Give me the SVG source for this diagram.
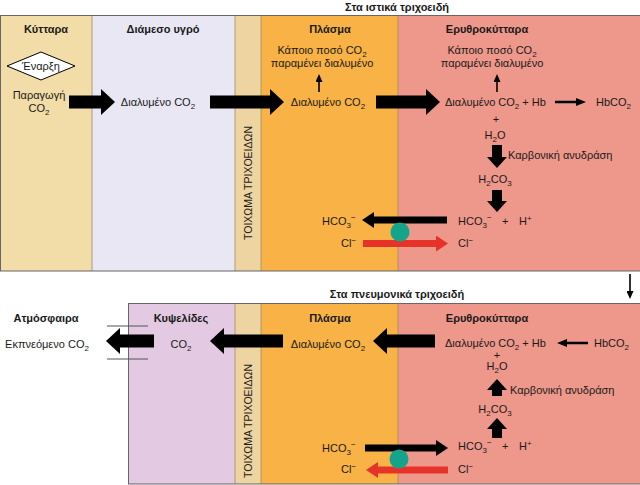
<svg xmlns="http://www.w3.org/2000/svg" width="640" height="485" viewBox="0 0 640 485">
<style>
text{font-family:"Liberation Sans",Arial,sans-serif;font-size:11px;fill:#1a1a1a}
.b{font-weight:bold}
.m{text-anchor:middle}
.wall{font-size:10.5px;text-anchor:middle}
.thick{stroke:#000;stroke-width:13;fill:none}
.vert{stroke:#000;stroke-width:10;fill:none}
.ex{stroke:#000;stroke-width:7;fill:none}
.red{stroke:#e5332a;stroke-width:7;fill:none}
.thin{stroke:#000;stroke-width:2.5;fill:none}
.hair{stroke:#000;stroke-width:1.6;fill:none}
.div{stroke:#9c8a68;stroke-width:0.8}
.frame{fill:none;stroke:#666;stroke-width:1}
</style>
<defs>
<marker id="hd" markerUnits="userSpaceOnUse" markerWidth="14" markerHeight="26" viewBox="0 0 14 26" refX="0" refY="13" orient="auto"><path d="M0,0 L14,13 L0,26 Z" fill="#000"/></marker>
<marker id="hv" markerUnits="userSpaceOnUse" markerWidth="11" markerHeight="20" viewBox="0 0 11 20" refX="0" refY="10" orient="auto"><path d="M0,0 L11,10 L0,20 Z" fill="#000"/></marker>
<marker id="hx" markerUnits="userSpaceOnUse" markerWidth="12" markerHeight="16" viewBox="0 0 12 16" refX="0" refY="8" orient="auto"><path d="M0,0 L12,8 L0,16 Z" fill="#000"/></marker>
<marker id="hr" markerUnits="userSpaceOnUse" markerWidth="12" markerHeight="16" viewBox="0 0 12 16" refX="0" refY="8" orient="auto"><path d="M0,0 L12,8 L0,16 Z" fill="#e5332a"/></marker>
<marker id="ht" markerUnits="userSpaceOnUse" markerWidth="10" markerHeight="8" viewBox="0 0 10 8" refX="0" refY="4" orient="auto"><path d="M0,0 L10,4 L0,8 Z" fill="#000"/></marker>
<marker id="hs" markerUnits="userSpaceOnUse" markerWidth="8" markerHeight="7" viewBox="0 0 8 7" refX="0" refY="3.5" orient="auto"><path d="M0,0 L8,3.5 L0,7 Z" fill="#000"/></marker>
</defs>

<!-- titles -->
<text class="b m" x="397" y="11">Στα ιστικά τριχοειδή</text>
<text class="b m" x="397" y="298">Στα πνευμονικά τριχοειδή</text>

<!-- top panel backgrounds -->
<g id="top-panel">
<rect x="0" y="15" width="92" height="256" fill="#f2dca7"/>
<rect x="92" y="15" width="143" height="256" fill="#e9e7f3"/>
<rect x="235" y="15" width="26" height="256" fill="#eed4a0"/>
<rect x="261" y="15" width="137" height="256" fill="#f8b245"/>
<rect x="398" y="15" width="242" height="256" fill="#ee978b"/>
<line class="div" x1="92" y1="15" x2="92" y2="271"/>
<line class="div" x1="235" y1="15" x2="235" y2="271"/>
<line class="div" x1="261" y1="15" x2="261" y2="271"/>
<line class="div" x1="398" y1="15" x2="398" y2="271"/>
<rect class="frame" x="0.5" y="15.5" width="640" height="255.5"/>
</g>

<!-- bottom panel backgrounds -->
<g id="bottom-panel">
<rect x="128" y="303" width="107" height="181" fill="#e3c9e1"/>
<rect x="235" y="303" width="26" height="181" fill="#eed4a0"/>
<rect x="261" y="303" width="137" height="181" fill="#f8b245"/>
<rect x="398" y="303" width="242" height="181" fill="#ee978b"/>
<line class="div" x1="235" y1="303" x2="235" y2="484"/>
<line class="div" x1="261" y1="303" x2="261" y2="484"/>
<line class="div" x1="398" y1="303" x2="398" y2="484"/>
<rect class="frame" x="128.5" y="303.5" width="512" height="180.5"/>
</g>

<!-- top nodes -->
<g id="cell">
<text class="b m" x="46" y="33">Κύτταρα</text>
<polygon points="7,66 41,52 75,66 41,80" fill="#fff" stroke="#000" stroke-width="1"/>
<text class="m" x="41" y="70">Έναρξη</text>
<text class="m" x="39" y="99">Παραγωγή</text>
<text class="m" x="39" y="112">CO<tspan dy="3" font-size="8">2</tspan></text>
</g>
<g id="interstitial">
<text class="b m" x="163" y="33">Διάμεσο υγρό</text>
<text class="m" x="158" y="106">Διαλυμένο CO<tspan dy="3" font-size="8">2</tspan></text>
</g>
<g id="wall-top">
<text class="wall" transform="translate(252,183) rotate(-90)">ΤΟΙΧΩΜΑ ΤΡΙΧΟΕΙΔΩΝ</text>
</g>
<g id="plasma-top">
<text class="b m" x="330" y="33">Πλάσμα</text>
<text class="m" x="322" y="54">Κάποιο ποσό CO<tspan dy="2.5" font-size="8">2</tspan></text>
<text class="m" x="322" y="67">παραμένει διαλυμένο</text>
<text class="m" x="328" y="106">Διαλυμένο CO<tspan dy="3" font-size="8">2</tspan></text>
<text x="322" y="225">HCO<tspan dy="3" font-size="8">3</tspan><tspan dy="-8" font-size="8">−</tspan></text>
<text x="341" y="247">Cl<tspan dy="-4" font-size="8">−</tspan></text>
</g>
<g id="rbc-top">
<text class="b m" x="487" y="33">Ερυθροκύτταρα</text>
<text class="m" x="492" y="54">Κάποιο ποσό CO<tspan dy="2.5" font-size="8">2</tspan></text>
<text class="m" x="492" y="67">παραμένει διαλυμένο</text>
<text x="445" y="106">Διαλυμένο CO<tspan dy="3" font-size="8">2</tspan><tspan dy="-3"> + Hb</tspan></text>
<text x="596" y="106">HbCO<tspan dy="3" font-size="8">2</tspan></text>
<text class="m" x="496" y="123">+</text>
<text class="m" x="495" y="139">H<tspan dy="3" font-size="8">2</tspan><tspan dy="-3">O</tspan></text>
<text x="508" y="159">Καρβονική ανυδράση</text>
<text class="m" x="495" y="183">H<tspan dy="3" font-size="8">2</tspan><tspan dy="-3">CO</tspan><tspan dy="3" font-size="8">3</tspan></text>
<text x="458" y="225">HCO<tspan dy="3" font-size="8">3</tspan><tspan dy="-8" font-size="8">−</tspan></text>
<text x="502" y="225">+</text>
<text x="519" y="225">H<tspan dy="-4" font-size="8">+</tspan></text>
<text x="458" y="247">Cl<tspan dy="-4" font-size="8">−</tspan></text>
</g>

<!-- bottom nodes -->
<g id="atmosphere">
<text class="b m" x="46" y="322">Ατμόσφαιρα</text>
<text class="m" x="47" y="348">Εκπνεόμενο CO<tspan dy="3" font-size="8">2</tspan></text>
<line x1="107" y1="326" x2="148" y2="326" stroke="#555" stroke-width="1"/>
<line x1="107" y1="359" x2="148" y2="359" stroke="#555" stroke-width="1"/>
</g>
<g id="alveoli">
<text class="b m" x="181" y="322">Κυψελίδες</text>
<text class="m" x="181" y="348">CO<tspan dy="3" font-size="8">2</tspan></text>
</g>
<g id="wall-bottom">
<text class="wall" transform="translate(252,421) rotate(-90)">ΤΟΙΧΩΜΑ ΤΡΙΧΟΕΙΔΩΝ</text>
</g>
<g id="plasma-bottom">
<text class="b m" x="330" y="322">Πλάσμα</text>
<text class="m" x="328" y="348">Διαλυμένο CO<tspan dy="3" font-size="8">2</tspan></text>
<text x="322" y="452">HCO<tspan dy="3" font-size="8">3</tspan><tspan dy="-8" font-size="8">−</tspan></text>
<text x="341" y="473">Cl<tspan dy="-4" font-size="8">−</tspan></text>
</g>
<g id="rbc-bottom">
<text class="b m" x="487" y="322">Ερυθροκύτταρα</text>
<text x="445" y="347">Διαλυμένο CO<tspan dy="3" font-size="8">2</tspan><tspan dy="-3"> + Hb</tspan></text>
<text x="594" y="347">HbCO<tspan dy="3" font-size="8">2</tspan></text>
<text class="m" x="497" y="359">+</text>
<text class="m" x="497" y="370">H<tspan dy="3" font-size="8">2</tspan><tspan dy="-3">O</tspan></text>
<text x="510" y="394">Καρβονική ανυδράση</text>
<text class="m" x="495" y="413">H<tspan dy="3" font-size="8">2</tspan><tspan dy="-3">CO</tspan><tspan dy="3" font-size="8">3</tspan></text>
<text x="458" y="450">HCO<tspan dy="3" font-size="8">3</tspan><tspan dy="-8" font-size="8">−</tspan></text>
<text x="502" y="450">+</text>
<text x="519" y="450">H<tspan dy="-4" font-size="8">+</tspan></text>
<text x="458" y="473">Cl<tspan dy="-4" font-size="8">−</tspan></text>
</g>

<!-- connectors -->
<g id="connectors">
<line class="thick" x1="69" y1="102" x2="101" y2="102" marker-end="url(#hd)"/>
<line class="thick" x1="210" y1="102" x2="270" y2="102" marker-end="url(#hd)"/>
<line class="thick" x1="376" y1="102" x2="426" y2="102" marker-end="url(#hd)"/>
<line class="hair" x1="319" y1="92" x2="319" y2="82" marker-end="url(#hs)"/>
<line class="hair" x1="497" y1="92" x2="497" y2="82" marker-end="url(#hs)"/>
<line class="thin" x1="555" y1="102" x2="576" y2="102" marker-end="url(#ht)"/>
<line class="vert" x1="497" y1="145" x2="497" y2="157" marker-end="url(#hv)"/>
<line class="vert" x1="497" y1="190" x2="497" y2="201" marker-end="url(#hv)"/>
<line class="ex" x1="447" y1="220" x2="374" y2="220" marker-end="url(#hx)"/>
<line class="red" x1="363" y1="243.5" x2="436" y2="243.5" marker-end="url(#hr)"/>
<circle cx="400" cy="232" r="9.5" fill="#14a38b"/>
<line class="hair" x1="630" y1="274" x2="630" y2="291" marker-end="url(#hs)"/>

<line class="thick" x1="154" y1="341" x2="120" y2="341" marker-end="url(#hd)"/>
<line class="thick" x1="283" y1="341" x2="224" y2="341" marker-end="url(#hd)"/>
<line class="thick" x1="435" y1="341" x2="387" y2="341" marker-end="url(#hd)"/>
<line class="thin" x1="588" y1="343" x2="567" y2="343" marker-end="url(#ht)"/>
<line class="vert" x1="497" y1="396" x2="497" y2="390" marker-end="url(#hv)"/>
<line class="vert" x1="497" y1="438" x2="497" y2="429" marker-end="url(#hv)"/>
<line class="ex" x1="365" y1="448" x2="436" y2="448" marker-end="url(#hx)"/>
<line class="red" x1="448" y1="470" x2="378" y2="470" marker-end="url(#hr)"/>
<circle cx="399" cy="459" r="9.5" fill="#14a38b"/>
</g>
</svg>
